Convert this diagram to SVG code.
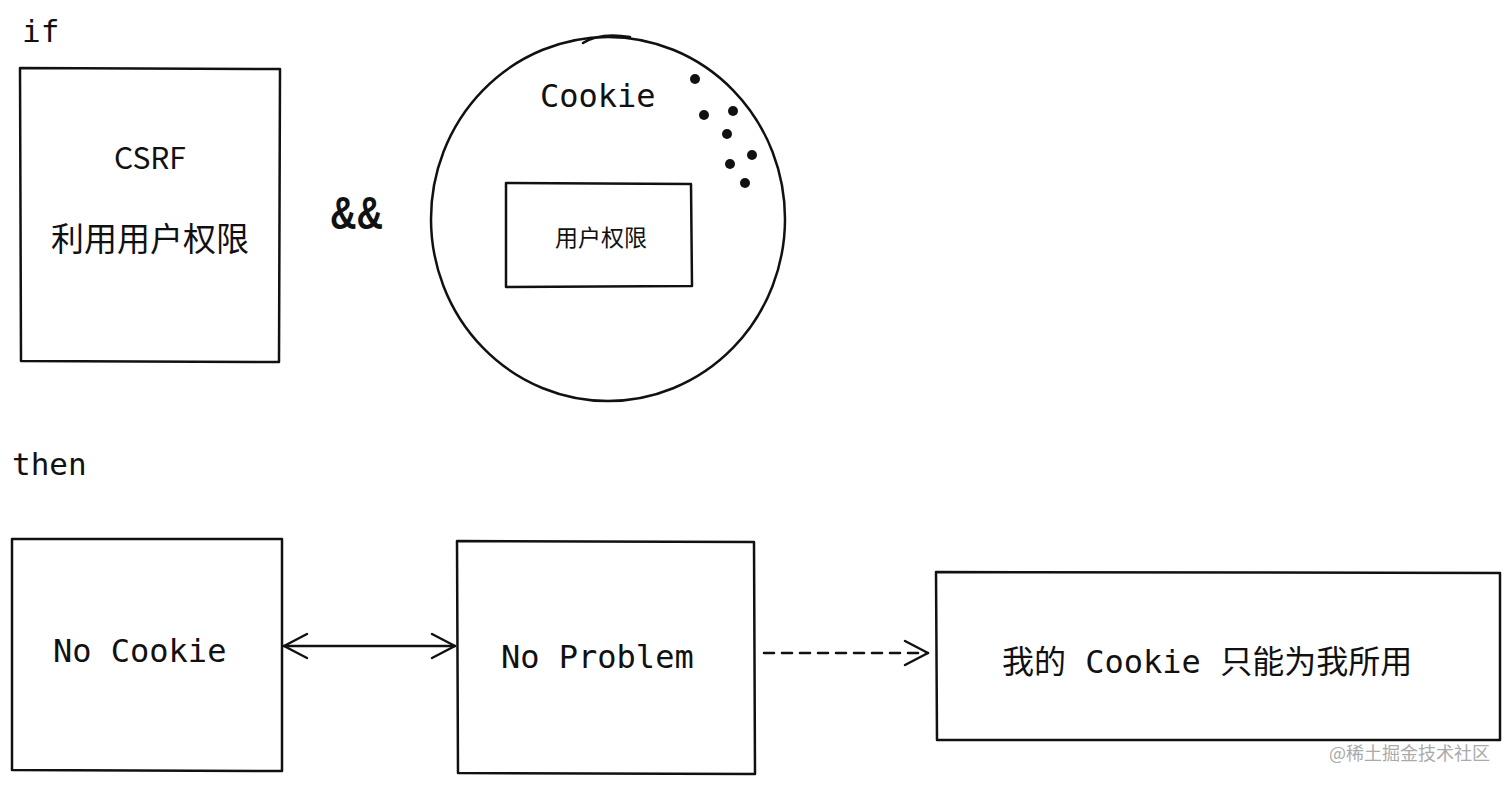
<svg xmlns="http://www.w3.org/2000/svg" width="1512" height="786" viewBox="0 0 1512 786">
<defs>
<style>
.box{fill:none;stroke:#111;stroke-width:2.5;stroke-linejoin:round}
.mono{font-family:"DejaVu Sans Mono","Liberation Mono",monospace;fill:#111}
.cjk{font-family:"Noto Sans CJK SC","Noto Sans",sans-serif;fill:#111}
.line{fill:none;stroke:#111;stroke-width:2.5;stroke-linecap:round;stroke-linejoin:round}
.dot{fill:#111}
</style>
<marker id="open" viewBox="0 0 28 28" refX="26" refY="14" markerWidth="28" markerHeight="28" markerUnits="userSpaceOnUse" orient="auto-start-reverse">
<path d="M3,2 L26,14 L3,26" fill="none" stroke="#111" stroke-width="2.5" stroke-linecap="round" stroke-linejoin="round"/>
</marker>
</defs>
<rect width="1512" height="786" fill="#fff"/>
<text class="mono" x="22" y="42" font-size="31">if</text>
<text class="mono" x="12" y="475" font-size="31">then</text>
<g id="csrf">
<path class="box" d="M20,68 L280,69 L279,362 L21,361 Z"/>
<text class="cjk" x="150" y="169" font-size="30" text-anchor="middle">CSRF</text>
<text class="cjk" x="150" y="251" font-size="33" text-anchor="middle">利用用户权限</text>
</g>
<text x="330" y="229" font-family="Liberation Sans,sans-serif" font-weight="bold" font-size="46" textLength="53" lengthAdjust="spacingAndGlyphs" fill="#111">&amp;&amp;</text>
<g id="cookie">
<ellipse class="box" cx="608" cy="219" rx="177" ry="182"/>
<path class="line" d="M583,43 Q600,32 630,37" stroke-width="2"/>
<text class="mono" x="540" y="107" font-size="32">Cookie</text>
<circle class="dot" cx="695" cy="79" r="5"/>
<circle class="dot" cx="704" cy="115" r="5"/>
<circle class="dot" cx="733" cy="111" r="5"/>
<circle class="dot" cx="727" cy="134" r="5"/>
<circle class="dot" cx="752" cy="155" r="5"/>
<circle class="dot" cx="730" cy="164" r="5"/>
<circle class="dot" cx="745" cy="183" r="5"/>
<g id="perm">
<path class="box" d="M506,183 L691,184 L692,286 L506,287 Z"/>
<text class="cjk" x="601" y="246" font-size="23" text-anchor="middle">用户权限</text>
</g>
</g>
<g id="nocookie">
<path class="box" d="M12,539 L282,539 L282,771 L12,770 Z"/>
<text class="mono" x="53" y="662" font-size="32">No Cookie</text>
</g>
<g id="noproblem">
<path class="box" d="M457,541 L754,542 L755,774 L458,773 Z"/>
<text class="mono" x="501" y="668" font-size="32">No Problem</text>
</g>
<g id="mine">
<path class="box" d="M936,572 L1500,573 L1500,740 L937,740 Z"/>
<text class="cjk" x="1002" y="673" font-size="32">我的<tspan class="mono" xml:space="preserve"> Cookie </tspan>只能为我所用</text>
</g>
<g id="connectors">
<line class="line" x1="284" y1="646" x2="455" y2="646" marker-start="url(#open)" marker-end="url(#open)"/>
<line class="line" x1="764" y1="653" x2="928" y2="653" stroke-dasharray="10,8" marker-end="url(#open)"/>
</g>
<text x="1490" y="760" font-family="Noto Sans CJK SC,sans-serif" font-size="18" fill="#aaa" text-anchor="end">@稀土掘金技术社区</text>
</svg>
